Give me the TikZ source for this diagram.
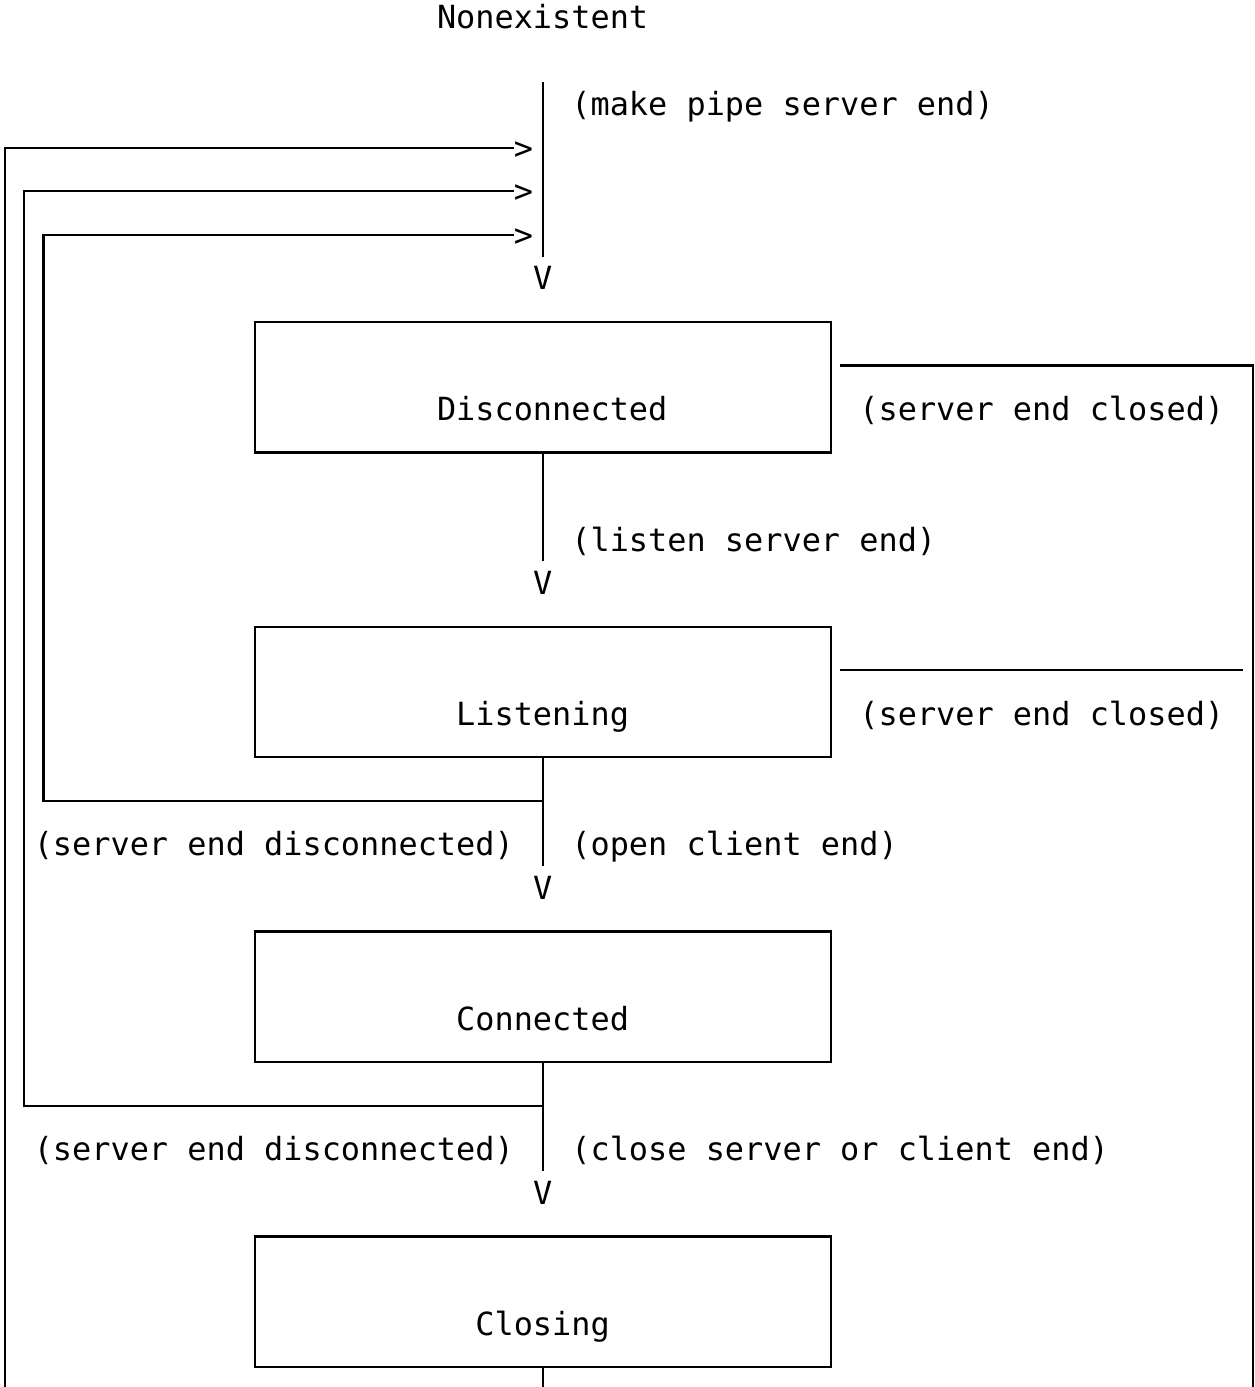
\documentclass[tikz,border=0pt]{standalone}
\usepackage{fontspec}
\setmonofont{DejaVu Sans Mono}
\begin{document}
\begin{tikzpicture}[x=19.2pt,y=-43.55pt,
  ln/.style={line width=2.2pt},
  txt/.style={font=\ttfamily\fontsize{31.89}{40}\selectfont, inner sep=0pt, outer sep=0pt, anchor=base west},
  statebox/.style={draw, line width=2.2pt, minimum width=576pt, minimum height=130.65pt, inner sep=0pt, outer sep=0pt}]
\useasboundingbox (-0.2604,-0.3904) rectangle (65.104,31.458);
% texts
\node[txt] (nonex) at (22.5,0.264) {Nonexistent};
\node[txt] (lmake) at (29.5,2.264) {(make pipe server end)};
\node[txt] (a3) at (26.5,3.264) {>};
\node[txt] (a4) at (26.5,4.264) {>};
\node[txt] (a5) at (26.5,5.264) {>};
\node[txt] (v1) at (27.5,6.264) {V};
\node[txt] (v2) at (27.5,13.264) {V};
\node[txt] (v3) at (27.5,20.264) {V};
\node[txt] (v4) at (27.5,27.264) {V};
% boxes
\node[statebox] (disc) at (28,8.5) {};
\node[statebox] (list) at (28,15.5) {};
\node[statebox] (conn) at (28,22.5) {};
\node[statebox] (clos) at (28,29.5) {};
\node[txt] (tdisc) at (22.5,9.264) {Disconnected};
\node[txt] (tlist) at (23.5,16.264) {Listening};
\node[txt] (tconn) at (23.5,23.264) {Connected};
\node[txt] (tclos) at (24.5,30.264) {Closing};
% labels
\node[txt] (lclosed1) at (44.5,9.264) {(server end closed)};
\node[txt] (lclosed2) at (44.5,16.264) {(server end closed)};
\node[txt] (llisten) at (29.5,12.264) {(listen server end)};
\node[txt] (ldisc1) at (1.5,19.264) {(server end disconnected)};
\node[txt] (lopen) at (29.5,19.264) {(open client end)};
\node[txt] (ldisc2) at (1.5,26.264) {(server end disconnected)};
\node[txt] (lclose) at (29.5,26.264) {(close server or client end)};
% coordinates
\coordinate (mtop) at (28,1.5);
\coordinate (mbot) at (28,5.5);
\coordinate (c0t) at (0,3);
\coordinate (c0e) at (26.5,3);
\coordinate (c0b) at (0,31.458);
\coordinate (c1t) at (1,4);
\coordinate (c1e) at (26.5,4);
\coordinate (c1b) at (1,25);
\coordinate (j25) at (28,25);
\coordinate (c2t) at (2,5);
\coordinate (c2e) at (26.5,5);
\coordinate (c2b) at (2,18);
\coordinate (j18) at (28,18);
\coordinate (e12) at (28,12.5);
\coordinate (e19) at (28,19.5);
\coordinate (e26) at (28,26.5);
\coordinate (e32) at (28,31.458);
\coordinate (r8s) at (43.5,8);
\coordinate (r8c) at (65,8);
\coordinate (r8b) at (65,31.458);
\coordinate (r15s) at (43.5,15);
\coordinate (r15e) at (64.5,15);
% connectors
\draw[ln] (mtop) -- (mbot);
\draw[ln] (c0b) -- (c0t) -- (c0e);
\draw[ln] (j25) -- (c1b) -- (c1t) -- (c1e);
\draw[ln] (j18) -- (c2b) -- (c2t) -- (c2e);
\draw[ln] (disc.south) -- (e12);
\draw[ln] (list.south) -- (e19);
\draw[ln] (conn.south) -- (e26);
\draw[ln] (clos.south) -- (e32);
\draw[ln] (r8s) -- (r8c) -- (r8b);
\draw[ln] (r15s) -- (r15e);
\end{tikzpicture}
\end{document}
